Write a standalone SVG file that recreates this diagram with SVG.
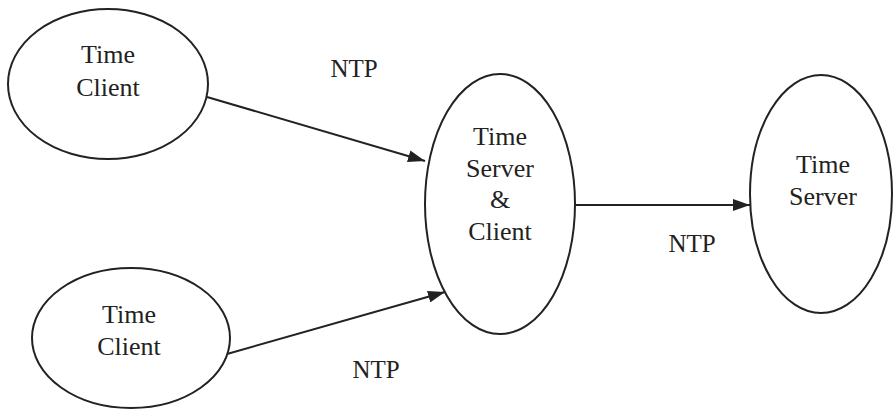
<svg xmlns="http://www.w3.org/2000/svg" width="895" height="418" viewBox="0 0 895 418">
<defs>
<style>
.node ellipse{fill:#ffffff;stroke:#222;stroke-width:2}
.node text{font-size:26px;fill:#222;text-anchor:middle}
.lbl{font-size:25px;fill:#222;text-anchor:middle}
</style>
<marker id="ahb" viewBox="0 0 10 10" refX="10" refY="5" markerWidth="17" markerHeight="12" markerUnits="userSpaceOnUse" orient="auto" preserveAspectRatio="none">
<path d="M0,0 L10,5 L0,10 z" fill="#222"/>
</marker>
</defs>
<rect width="895" height="418" fill="#ffffff"/>
<g font-family="Liberation Serif, serif">
<g id="connectors">
<line x1="207" y1="97" x2="425" y2="161" stroke="#222" stroke-width="2" marker-end="url(#ahb)"/>
<line x1="227" y1="354" x2="445" y2="292" stroke="#222" stroke-width="2" marker-end="url(#ahb)"/>
<line x1="575" y1="205" x2="750" y2="205" stroke="#222" stroke-width="2" marker-end="url(#ahb)"/>
<text class="lbl" x="354" y="77">NTP</text>
<text class="lbl" x="692" y="252">NTP</text>
<text class="lbl" x="376" y="378">NTP</text>
</g>
<g id="client1" class="node">
<ellipse cx="108" cy="84" rx="100" ry="75"/>
<text x="108" y="63">Time</text>
<text x="108" y="96">Client</text>
</g>
<g id="client2" class="node">
<ellipse cx="131" cy="338" rx="99" ry="70"/>
<text x="129" y="323">Time</text>
<text x="129" y="355">Client</text>
</g>
<g id="serverclient" class="node">
<ellipse cx="500" cy="204" rx="75" ry="130"/>
<text x="500" y="145">Time</text>
<text x="500" y="177">Server</text>
<text x="500" y="208">&amp;</text>
<text x="500" y="240">Client</text>
</g>
<g id="server" class="node">
<ellipse cx="821" cy="194" rx="71" ry="119"/>
<text x="823" y="173">Time</text>
<text x="823" y="205">Server</text>
</g>
</g>
</svg>
